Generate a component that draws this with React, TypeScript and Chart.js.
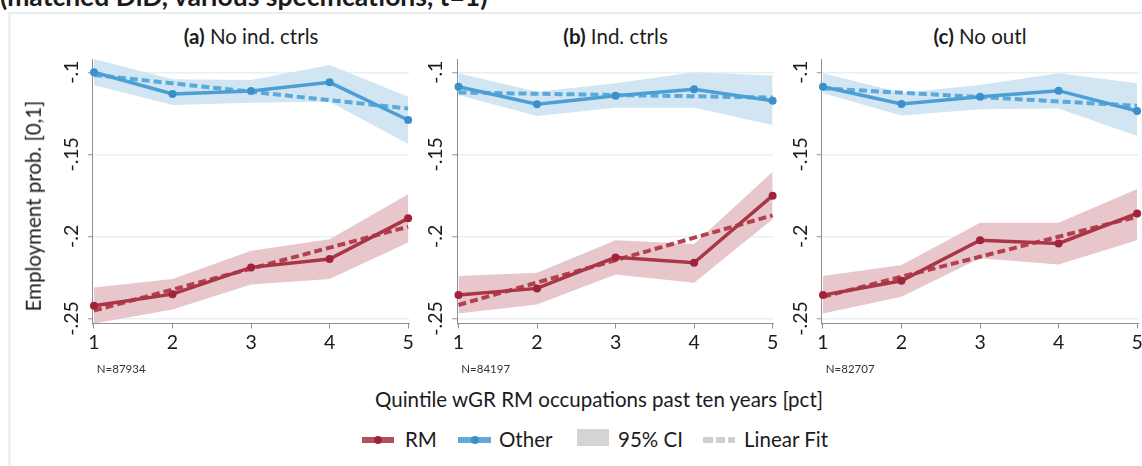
import React, { useEffect, useRef } from 'react';
import { Chart, registerables } from 'chart.js';

Chart.register(...registerables);

// ---- data -------------------------------------------------------------
const QUINTILES = [1, 2, 3, 4, 5];
const X_TICK_LABELS = ['1', '2', '3', '4', '5'];
const Y_TICKS = [-0.25, -0.2, -0.15, -0.1];
const Y_TICK_LABELS = ['-.25', '-.2', '-.15', '-.1'];
const Y_MIN = -0.2531;
const Y_MAX = -0.0919;
const FIT_X = [1, 5];

const PANEL_TAGS = ['(a)', '(b)', '(c)'];
const PANEL_NAMES = ['No ind. ctrls', 'Ind. ctrls', 'No outl'];
const PANEL_N = ['N=87934', 'N=84197', 'N=82707'];

// (a) No ind. ctrls
const RM_A = [-0.2423, -0.2352, -0.2189, -0.2138, -0.189];
const RM_A_LO = [-0.2531, -0.2445, -0.2293, -0.226, -0.2037];
const RM_A_HI = [-0.2311, -0.226, -0.2088, -0.2017, -0.1744];
const RM_A_FIT = [-0.2452, -0.1941];
const OTHER_A = [-0.1, -0.1132, -0.1114, -0.1061, -0.1291];
const OTHER_A_LO = [-0.1077, -0.1199, -0.1185, -0.1179, -0.1437];
const OTHER_A_HI = [-0.0919, -0.1043, -0.1047, -0.0955, -0.1149];
const OTHER_A_FIT = [-0.1016, -0.1221];

// (b) Ind. ctrls
const RM_B = [-0.2358, -0.2317, -0.2128, -0.2161, -0.1752];
const RM_B_LO = [-0.247, -0.2415, -0.2232, -0.2283, -0.1896];
const RM_B_HI = [-0.2242, -0.2222, -0.2023, -0.2047, -0.1606];
const RM_B_FIT = [-0.2418, -0.1872];
const OTHER_B = [-0.1088, -0.1195, -0.1143, -0.1104, -0.1173];
const OTHER_B_LO = [-0.1138, -0.1266, -0.1216, -0.1216, -0.1321];
const OTHER_B_HI = [-0.1006, -0.1118, -0.1067, -0.1, -0.102];
const OTHER_B_FIT = [-0.1123, -0.1154];

// (c) No outl
const RM_C = [-0.2358, -0.2271, -0.2023, -0.2043, -0.186];
const RM_C_LO = [-0.247, -0.2368, -0.2134, -0.2171, -0.2023];
const RM_C_HI = [-0.2242, -0.2175, -0.1917, -0.1917, -0.1712];
const RM_C_FIT = [-0.2368, -0.188];
const OTHER_C = [-0.1088, -0.1193, -0.1149, -0.1112, -0.1236];
const OTHER_C_LO = [-0.1128, -0.1264, -0.1226, -0.122, -0.1388];
const OTHER_C_HI = [-0.1006, -0.1124, -0.1077, -0.1006, -0.1067];
const OTHER_C_FIT = [-0.1098, -0.1204];

const PANELS = [
  { rm: RM_A, rmLo: RM_A_LO, rmHi: RM_A_HI, rmFit: RM_A_FIT, ot: OTHER_A, otLo: OTHER_A_LO, otHi: OTHER_A_HI, otFit: OTHER_A_FIT },
  { rm: RM_B, rmLo: RM_B_LO, rmHi: RM_B_HI, rmFit: RM_B_FIT, ot: OTHER_B, otLo: OTHER_B_LO, otHi: OTHER_B_HI, otFit: OTHER_B_FIT },
  { rm: RM_C, rmLo: RM_C_LO, rmHi: RM_C_HI, rmFit: RM_C_FIT, ot: OTHER_C, otLo: OTHER_C_LO, otHi: OTHER_C_HI, otFit: OTHER_C_FIT },
];

// ---- styling -----------------------------------------------------------
const FONT = 'Lato, "Open Sans", sans-serif';
const FS = 20.5; // titles, legend
const FS_TICK = 19.5; // tick labels
const TEXT = '#1b1b1b';
const RED_LINE = '#aa3545';
const RED_DOT = '#a1233a';
const RED_DASH = '#b3404f';
const RED_CI = '#e8c7cc';
const BLUE_LINE = '#4b9fd5';
const BLUE_DOT = '#3b90cb';
const BLUE_DASH = '#5aa9da';
const BLUE_CI = '#d2e5f3';
const AXIS = '#8f8f8f';
const GRID = '#e8f0f0';

// plot-area geometry (page pixels)
const AREA_LEFTS = [92.8, 457.3, 821.8];
const AREA_W = 316.5;
const AREA_TOP = 59;
const AREA_BOTTOM = 323.5;
const TICK_LEN = 5;
const CANVAS_TOP = 20;
const CANVAS_H = 360;
const CANVAS_PAD_L = 70;
const CANVAS_W = 395;

const pts = (xs: number[], ys: number[]) => xs.map((x, i) => ({ x, y: ys[i] }));

const tickLabelPlugin = {
  id: 'tickLabels',
  afterDraw(chart: any) {
    const { ctx, chartArea } = chart;
    const xs = chart.scales.x;
    const ys = chart.scales.y;
    ctx.save();
    ctx.fillStyle = TEXT;
    ctx.font = `${FS_TICK}px ${FONT}`;
    ctx.textAlign = 'center';
    ctx.textBaseline = 'alphabetic';
    QUINTILES.forEach((v, i) => {
      ctx.fillText(X_TICK_LABELS[i], xs.getPixelForValue(v), chartArea.bottom + 25);
    });
    Y_TICKS.forEach((v, i) => {
      ctx.save();
      ctx.translate(chartArea.left - 15, ys.getPixelForValue(v));
      ctx.rotate(-Math.PI / 2);
      ctx.fillText(Y_TICK_LABELS[i], 0, 0);
      ctx.restore();
    });
    ctx.restore();
  },
};

function Panel({ idx }: { idx: number }) {
  const ref = useRef<HTMLCanvasElement | null>(null);
  const areaLeft = AREA_LEFTS[idx];
  const canvasLeft = Math.floor(areaLeft) - CANVAS_PAD_L;

  useEffect(() => {
    const p = PANELS[idx];
    const padLeft = areaLeft - canvasLeft - TICK_LEN;
    const padRight = CANVAS_W - (areaLeft - canvasLeft) - AREA_W;
    const padTop = AREA_TOP - CANVAS_TOP;
    const padBottom = CANVAS_H - (AREA_BOTTOM - CANVAS_TOP) - TICK_LEN;

    const lineBase = { tension: 0, clip: false as any, fill: false };
    const band = { borderWidth: 0, borderColor: 'transparent', pointRadius: 0, tension: 0, clip: false as any };

    const chart = new Chart(ref.current as HTMLCanvasElement, {
      type: 'line',
      data: {
        datasets: [
          { ...lineBase, label: 'Other', data: pts(QUINTILES, p.ot), borderColor: BLUE_LINE, borderWidth: 3.5, pointRadius: 4, pointBackgroundColor: BLUE_DOT, pointBorderWidth: 0 },
          { ...lineBase, label: 'RM', data: pts(QUINTILES, p.rm), borderColor: RED_LINE, borderWidth: 3.5, pointRadius: 4, pointBackgroundColor: RED_DOT, pointBorderWidth: 0 },
          { ...lineBase, label: 'Other fit', data: pts(FIT_X, p.otFit), borderColor: BLUE_DASH, borderWidth: 4, borderDash: [8, 4], pointRadius: 0 },
          { ...lineBase, label: 'RM fit', data: pts(FIT_X, p.rmFit), borderColor: RED_DASH, borderWidth: 4, borderDash: [8, 4], pointRadius: 0 },
          { ...band, label: 'RM CI hi', data: pts(QUINTILES, p.rmHi), fill: '+1', backgroundColor: RED_CI },
          { ...band, label: 'RM CI lo', data: pts(QUINTILES, p.rmLo), fill: false },
          { ...band, label: 'Other CI hi', data: pts(QUINTILES, p.otHi), fill: '+1', backgroundColor: BLUE_CI },
          { ...band, label: 'Other CI lo', data: pts(QUINTILES, p.otLo), fill: false },
        ] as any,
      },
      options: {
        responsive: false,
        animation: false,
        events: [],
        layout: { autoPadding: false, padding: { left: padLeft, right: padRight, top: padTop, bottom: padBottom } } as any,
        plugins: { legend: { display: false }, tooltip: { enabled: false }, title: { display: false } },
        scales: {
          x: {
            type: 'linear',
            min: 0.985,
            max: 5.015,
            afterBuildTicks: (s: any) => { s.ticks = QUINTILES.map((v) => ({ value: v })); },
            ticks: { display: false },
            grid: { display: true, drawOnChartArea: false, drawTicks: true, tickLength: TICK_LEN, tickColor: AXIS, tickWidth: 1 },
            border: { display: true, color: AXIS, width: 1 },
          },
          y: {
            type: 'linear',
            min: Y_MIN,
            max: Y_MAX,
            afterBuildTicks: (s: any) => { s.ticks = Y_TICKS.map((v) => ({ value: v })); },
            ticks: { display: false },
            grid: { display: true, drawOnChartArea: true, drawTicks: true, tickLength: TICK_LEN, color: GRID, lineWidth: 1.5, tickColor: AXIS, tickWidth: 1 },
            border: { display: true, color: AXIS, width: 1 },
          },
        },
      } as any,
      plugins: [tickLabelPlugin],
    });
    return () => chart.destroy();
  }, [idx]);

  return (
    <canvas
      ref={ref}
      width={CANVAS_W}
      height={CANVAS_H}
      style={{ position: 'absolute', left: canvasLeft, top: CANVAS_TOP, width: CANVAS_W, height: CANVAS_H }}
    />
  );
}

// text placed by its baseline
function Txt({ x, y, size = FS, weight = 400, align = 'left', color = TEXT, children }: any) {
  const shift = align === 'center' ? 'translateX(-50%)' : 'none';
  return (
    <div
      style={{
        position: 'absolute',
        left: x,
        top: y - 0.887 * size,
        fontFamily: FONT,
        fontSize: size,
        fontWeight: weight,
        lineHeight: `${size}px`,
        color,
        whiteSpace: 'nowrap',
        transform: shift,
      }}
    >
      {children}
    </div>
  );
}

function LegendLine({ x0, x1, color, dot }: any) {
  return (
    <>
      <div style={{ position: 'absolute', left: x0, top: 437, width: x1 - x0, height: 6, background: color }} />
      <div style={{ position: 'absolute', left: (x0 + x1) / 2 - 4, top: 436, width: 8, height: 8, borderRadius: 4, background: dot }} />
    </>
  );
}

export default function App() {
  return (
    <div style={{ position: 'fixed', left: 0, top: 0, width: 1142, height: 466, background: '#fff', overflow: 'hidden' }}>
      <div style={{ position: 'absolute', left: 8, top: 12, width: 1200, height: 500, borderLeft: '3px solid #e8f2f2', borderTop: '2px solid #e4eeee' }} />
      <Txt x={0} y={6.5} size={26.5} weight={700}>(matched DiD, various specifications, t=1)</Txt>

      {AREA_LEFTS.map((l, i) => (
        <Txt key={'t' + i} x={l + AREA_W / 2} y={44} align="center">
          <span style={{ fontWeight: 700 }}>{PANEL_TAGS[i]}</span> {PANEL_NAMES[i]}
        </Txt>
      ))}

      {[0, 1, 2].map((i) => <Panel key={i} idx={i} />)}

      {AREA_LEFTS.map((l, i) => (
        <Txt key={'n' + i} x={l + 4} y={373} size={11.5} color="#333">{PANEL_N[i]}</Txt>
      ))}

      <div
        style={{
          position: 'absolute', left: 0, top: 0, transformOrigin: '0 0',
          transform: `translate(41px, 206px) rotate(-90deg) translate(-50%, -${0.887 * FS}px)`,
          fontFamily: FONT, fontSize: FS, lineHeight: `${FS}px`, color: TEXT, whiteSpace: 'nowrap',
        }}
      >
        Employment prob. [0,1]
      </div>

      <Txt x={375} y={407}>Quintile wGR RM occupations past ten years [pct]</Txt>

      <LegendLine x0={362} x1={394} color="#b54f5d" dot={RED_DOT} />
      <Txt x={405} y={447}>RM</Txt>
      <LegendLine x0={458} x1={491} color="#63aadb" dot={BLUE_DOT} />
      <Txt x={499} y={447}>Other</Txt>
      <div style={{ position: 'absolute', left: 577, top: 429, width: 32, height: 17, background: '#d4d4d4' }} />
      <Txt x={618} y={447}>95% CI</Txt>
      <div style={{ position: 'absolute', left: 703, top: 437, width: 10, height: 6, background: '#d0d0d0' }} />
      <div style={{ position: 'absolute', left: 716, top: 437, width: 9, height: 6, background: '#d0d0d0' }} />
      <div style={{ position: 'absolute', left: 728, top: 437, width: 7, height: 6, background: '#d0d0d0' }} />
      <Txt x={744} y={447}>Linear Fit</Txt>
    </div>
  );
}
